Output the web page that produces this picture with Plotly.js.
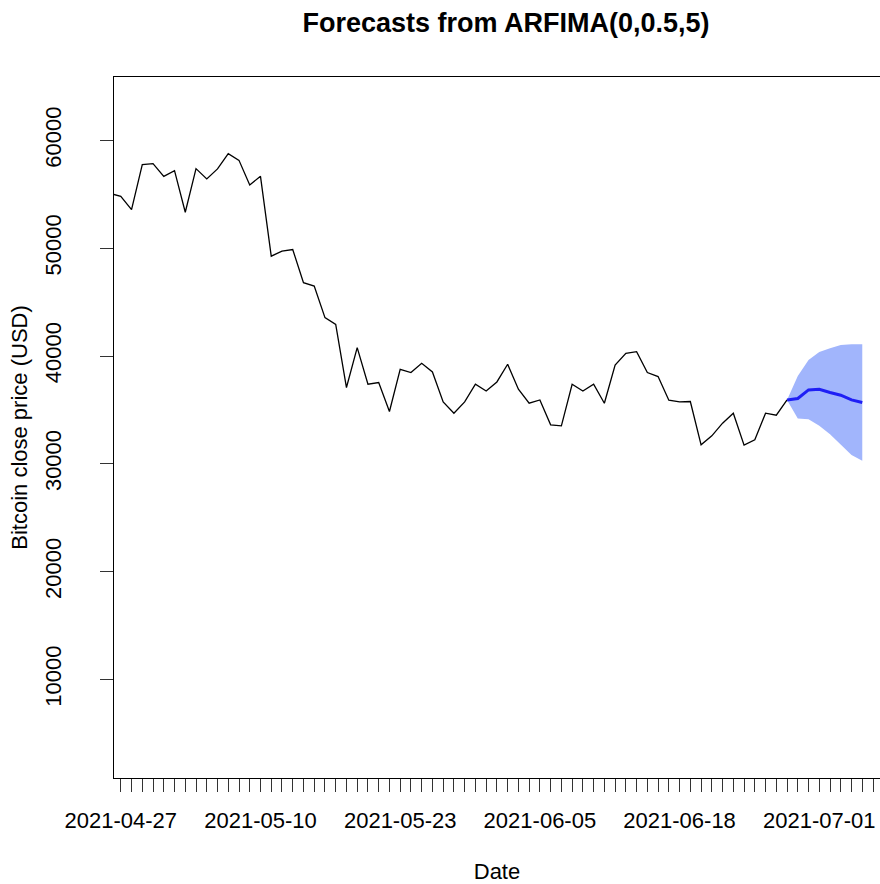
<!DOCTYPE html>
<html>
<head>
<meta charset="utf-8">
<script src="https://cdn.plot.ly/plotly-3.0.1.min.js"></script>
<style>
  html, body { margin: 0; padding: 0; background: #fff; overflow: hidden; }
  #chart { width: 880px; height: 884px; }
</style>
</head>
<body>
<div id="chart"></div>
<script>
// Daily Bitcoin close prices (USD), first value sits one day before the first labelled date
const histStart = '2021-04-26';
const histClose = [
  55080, 54815, 53583, 57750, 57843, 56667, 57195, 53333, 57380, 56426,
  57352, 58769, 58148, 55870, 56667, 49259, 49722, 49880, 46796, 46482,
  43556, 42936, 37075, 40778, 37380, 37537, 34853, 38769, 38463, 39325,
  38519, 35741, 34695, 35741, 37380, 36760, 37593, 39232, 36917, 35621,
  35926, 33611, 33519, 37380, 36760, 37380, 35621, 39167, 40250, 40407,
  38463, 38093, 35899, 35741, 35778, 31760, 32593, 33769, 34695, 31732,
  32223, 34695, 34510, 35926
];

// ARFIMA(0,0.5,5) point forecasts and interval, joined to the last observation
const fcStart = '2021-06-28';
const fcMean  = [35926, 36056, 36852, 36917, 36612, 36362, 35926, 35685];
const fcUpper = [35926, 38148, 39630, 40370, 40713, 41019, 41083, 41083];
const fcLower = [35926, 34204, 34139, 33519, 32751, 31825, 30806, 30278];

// Tick labels on the date axis
const dateLabels = ['2021-04-27', '2021-05-10', '2021-05-23', '2021-06-05', '2021-06-18', '2021-07-01'];
const priceTicks = [10000, 20000, 30000, 40000, 50000, 60000];

function dailyDates(start, n) {
  const out = [];
  const t0 = Date.parse(start + 'T00:00:00Z');
  for (let i = 0; i < n; i++) {
    out.push(new Date(t0 + i * 86400000).toISOString().slice(0, 10));
  }
  return out;
}

const histDates = dailyDates(histStart, histClose.length);
const fcDates = dailyDates(fcStart, fcMean.length);

const FONT = 'Liberation Sans, Arial, Helvetica, sans-serif';

const traces = [
  {
    x: fcDates, y: fcUpper, type: 'scatter', mode: 'lines',
    line: { width: 0, color: 'rgba(0,0,0,0)' }, hoverinfo: 'skip', showlegend: false
  },
  {
    x: fcDates, y: fcLower, type: 'scatter', mode: 'lines',
    fill: 'tonexty', fillcolor: 'rgb(161,181,252)',
    line: { width: 0, color: 'rgba(0,0,0,0)' }, hoverinfo: 'skip', showlegend: false
  },
  {
    x: histDates, y: histClose, type: 'scatter', mode: 'lines',
    line: { color: '#000000', width: 1.3 }, showlegend: false
  },
  {
    x: fcDates, y: fcMean, type: 'scatter', mode: 'lines',
    line: { color: '#1f1ff5', width: 3 }, showlegend: false
  }
];

const layout = {
  width: 880, height: 884,
  margin: { l: 114, r: 0, t: 77, b: 106, pad: 0 },
  paper_bgcolor: '#ffffff', plot_bgcolor: '#ffffff',
  font: { family: FONT, size: 22, color: '#000000' },
  showlegend: false,
  title: {
    text: '<b>Forecasts from ARFIMA(0,0.5,5)</b>',
    font: { family: FONT, size: 27, color: '#000000' },
    xref: 'container', x: 506 / 880, xanchor: 'center',
    yref: 'container', y: 1 - 23 / 884, yanchor: 'middle'
  },
  xaxis: {
    type: 'date',
    range: ['2021-04-26 08:50', '2021-07-06 15:36'],
    tickmode: 'array', tickvals: dateLabels, ticktext: dateLabels,
    ticks: 'outside', ticklen: 13, tickwidth: 1, tickcolor: '#333333',
    ticklabelstandoff: 10,
    minor: { dtick: 86400000, tick0: '2021-04-27', ticks: 'outside', ticklen: 13, tickwidth: 1, tickcolor: '#333333', showgrid: false },
    showline: true, linecolor: '#000000', linewidth: 1, mirror: true,
    showgrid: false, zeroline: false,
    tickfont: { family: FONT, size: 22, color: '#000000' },
    title: { text: 'Date', font: { family: FONT, size: 22, color: '#000000' }, standoff: 39 }
  },
  yaxis: {
    range: [854, 65881],
    tickmode: 'array', tickvals: priceTicks, ticktext: priceTicks.map(String),
    tickangle: -90,
    ticks: 'outside', ticklen: 13, tickwidth: 1, tickcolor: '#333333',
    ticklabelstandoff: 30,
    showline: true, linecolor: '#000000', linewidth: 1, mirror: false,
    showgrid: false, zeroline: false,
    tickfont: { family: FONT, size: 22, color: '#000000' },
    title: { text: 'Bitcoin close price (USD)', font: { family: FONT, size: 22, color: '#000000' }, standoff: 7 }
  }
};

Plotly.newPlot('chart', traces, layout, { staticPlot: true, displayModeBar: false });
</script>
</body>
</html>
